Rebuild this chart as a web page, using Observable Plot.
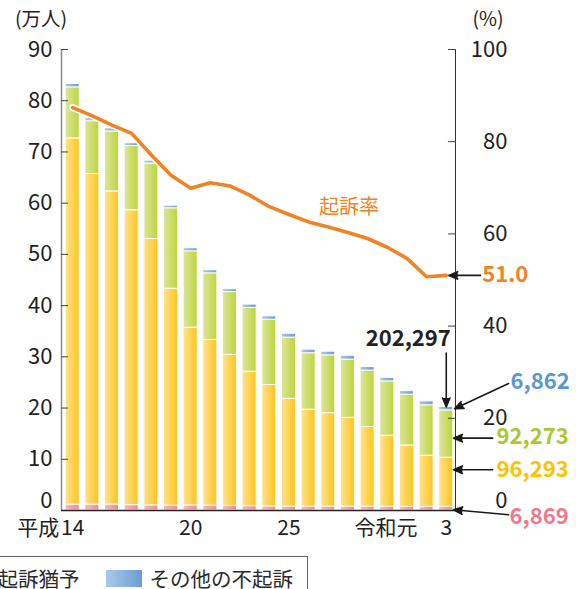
<!DOCTYPE html>
<html><head><meta charset="utf-8">
<script src="https://cdn.jsdelivr.net/npm/d3@7"></script>
<script src="https://cdn.jsdelivr.net/npm/@observablehq/plot@0.6"></script>
<style>
html,body{margin:0;padding:0;background:#fff;overflow:hidden;width:576px;height:589px;}
body{position:relative;font-family:"Noto Sans CJK JP","Noto Sans",sans-serif;}
#chart{position:absolute;left:0;top:0;}
#legend{position:absolute;top:556px;right:268px;border:1px solid #666;padding:9px 14px 14px 14px;display:flex;align-items:center;white-space:nowrap;font-size:20.5px;line-height:24px;color:#2a2a2a;background:#fff}
.item{display:flex;align-items:center;margin-left:26px}
.item:first-child{margin-left:0}
.sw{width:36px;height:17px;margin-right:8px}
</style></head><body>
<div id="chart"></div>
<div id="legend"></div>
<script>
// ---- data (万人 / %) ----
const years = [2002,2003,2004,2005,2006,2007,2008,2009,2010,2011,2012,2013,2014,2015,2016,2017,2018,2019,2020,2021];
const seriesNames = ["公判請求","略式命令請求","起訴猶予","その他の不起訴"];
const kohan   = [1.15,1.15,1.15,1.05,1.0,0.95,1.0,0.95,0.9,0.85,0.8,0.75,0.75,0.75,0.75,0.75,0.72,0.7,0.7,0.6869];
const ryaku   = [71.5,64.55,61.15,57.55,52.0,42.35,34.7,32.35,29.5,26.25,23.7,21.05,18.95,18.25,17.35,15.55,13.88,12.0,10.0,9.6293];
const yuyo    = [9.96,10.3,11.7,12.55,14.75,15.7,14.9,13.0,12.25,12.45,12.75,11.95,11.0,11.3,11.35,11.0,10.6,9.9,9.85,9.2273];
const sonota  = [0.65,0.6,0.6,0.55,0.55,0.5,0.6,0.6,0.55,0.65,0.65,0.75,0.7,0.7,0.75,0.7,0.7,0.7,0.75,0.6862];
const kisoRate = [87.4,85.6,83.6,81.8,77.1,72.7,69.9,71.1,70.4,68.4,65.9,64.2,62.6,61.5,60.3,59.0,57.1,54.7,50.7,51.0];
const leftTicks = [0,10,20,30,40,50,60,70,80,90];
const rightTicks = [0,20,40,60,80,100];
const xTickYears = [2002,2008,2013,2019,2021];
const xTickNums = ["14","20","25","元","3"];
const xTickEras = ["平成","","","令和",""];
const lastPersons = {total:202297, kohan:6869, ryaku:96293, yuyo:92273, sonota:6862};

// ---- build tables ----
const seriesValues = [kohan, ryaku, yuyo, sonota];
const rows = [];
years.forEach((yr,i)=>seriesNames.forEach((s,j)=>rows.push({year:yr, series:s, value:seriesValues[j][i]})));
const rateRows = years.map((yr,i)=>({year:yr, rate:kisoRate[i]}));
const xTicks = xTickYears.map((yr,i)=>({year:yr, num:xTickNums[i], era:xTickEras[i]}));
const P = 0.9; // 100% <-> 90万人
const last = years.length-1;
const lastYear = years[last];
const total = kohan[last]+ryaku[last]+yuyo[last]+sonota[last];
const fmt = d3.format(",");

const gradIds = ["gPink","gYellow","gGreen","gBlue"];
const gradStops = [["#f9b9c1","#ee8a99"],["#ffe38e","#ffc51c"],["#dde69e","#bcd53a"],["#acc8ea","#6c9dd6"]];
const labelColors = {sonota:"#5b97d2", yuyo:"#a8c934", ryaku:"#fdc200", kohan:"#ee7a8c", rate:"#ef8325"};

const x0 = 2001.43, x1 = 2021.47, half = 0.356;
const font = "'Noto Sans CJK JP','Noto Sans',sans-serif";

const ann = [
  {x1:lastYear, y1:total+10.5, x2:lastYear, y2:total},
  {x1:lastYear+1.74, y1:kisoRate[last]*P, x2:lastYear+0.13, y2:kisoRate[last]*P},
  {x1:lastYear+3.17, y1:24.8, x2:lastYear+0.42, y2:19.86},
  {x1:lastYear+2.36, y1:14.12, x2:lastYear+0.37, y2:14.12},
  {x1:lastYear+2.36, y1:7.95, x2:lastYear+0.37, y2:7.95},
  {x1:lastYear+3.17, y1:-0.84, x2:lastYear+0.37, y2:0.14}
];
const annText = [
  {x:lastYear+0.23, y:total+13.2, t:fmt(lastPersons.total), c:"#222", a:"end"},
  {x:lastYear+1.83, y:kisoRate[last]*P, t:kisoRate[last].toFixed(1), c:labelColors.rate, a:"start"},
  {x:lastYear+3.27, y:25.05, t:fmt(lastPersons.sonota), c:labelColors.sonota, a:"start"},
  {x:lastYear+2.56, y:14.31, t:fmt(lastPersons.yuyo), c:labelColors.yuyo, a:"start"},
  {x:lastYear+2.56, y:8.0, t:fmt(lastPersons.ryaku), c:labelColors.ryaku, a:"start"},
  {x:lastYear+3.22, y:-1.31, t:fmt(lastPersons.kohan), c:labelColors.kohan, a:"start"}
];

const chart = Plot.plot({
  width: 576, height: 550,
  marginTop: 49, marginBottom: 40, marginLeft: 61, marginRight: 121,
  x: {domain: [x0, x1], axis: null},
  y: {domain: [0, 90], axis: null},
  color: {domain: seriesNames, range: gradIds.map(id=>`url(#${id})`)},
  style: {fontFamily: font, background: "white", color: "#222", overflow: "visible"},
  marks: [
    Plot.rectY(rows, Plot.stackY({x: "year", x1: d=>d.year-half, x2: d=>d.year+half, y: "value", fill: "series", stroke: "#fffdf5", strokeWidth: 1})),
    Plot.line(rateRows, {x: "year", y: d=>d.rate*P, stroke: "white", strokeWidth: 7, strokeLinejoin: "round", strokeLinecap: "round"}),
    Plot.line(rateRows, {x: "year", y: d=>d.rate*P, stroke: labelColors.rate, strokeWidth: 3.6, strokeLinejoin: "round", strokeLinecap: "round"}),
    // axes lines
    Plot.ruleX([x0], {x: d=>d, y1: ()=>0, y2: ()=>90, stroke: "#8c8c8c", strokeWidth: 1.5}),
    Plot.ruleX([x1], {x: d=>d, y1: ()=>0, y2: ()=>90, stroke: "#333", strokeWidth: 1}),
    Plot.ruleY(leftTicks.filter(d=>d>0), {y: d=>d, x1: ()=>x0, x2: ()=>x0+0.36, stroke: "#444", strokeWidth: 1}),
    Plot.ruleY(rightTicks.filter(d=>d>0), {y: d=>d*P, x1: ()=>x1-0.36, x2: ()=>x1, stroke: "#444", strokeWidth: 1}),
    Plot.ruleY([0], {y: d=>d, x1: ()=>x0, x2: ()=>x1, stroke: "#222", strokeWidth: 1.5}),
    // tick labels
    Plot.text(leftTicks.filter(d=>d>0), {y: d=>d, text: d=>String(d), frameAnchor: "left", dx: -9, textAnchor: "end", fontSize: 22, fill: "#222"}),
    Plot.text([0], {y: d=>d, text: d=>String(d), frameAnchor: "left", dx: -9, dy: -10, textAnchor: "end", fontSize: 22, fill: "#222"}),
    Plot.text(rightTicks.filter(d=>d>0), {y: d=>d*P, text: d=>String(d), frameAnchor: "right", dx: 52, textAnchor: "end", fontSize: 22, fill: "#222"}),
    Plot.text([0], {y: d=>d*P, text: d=>String(d), frameAnchor: "right", dx: 52, dy: -10, textAnchor: "end", fontSize: 22, fill: "#222"}),
    Plot.text(["(万人)"], {text: d=>d, frameAnchor: "top-left", textAnchor: "middle", lineAnchor: "middle", dx: -20.5, dy: -29.5, fontSize: 19.5, fill: "#222"}),
    Plot.text(["(%)"], {text: d=>d, frameAnchor: "top-right", textAnchor: "middle", lineAnchor: "middle", dx: 32.5, dy: -29.5, fontSize: 19.5, fill: "#222"}),
    Plot.text(xTicks, {x: "year", y: ()=>0, text: "num", dy: 17.5, fontSize: 21, fill: "#222"}),
    Plot.text(xTicks.filter(d=>d.era==="平成"), {x: "year", y: ()=>0, text: "era", dy: 17.5, dx: -13.5, textAnchor: "end", fontSize: 21, fill: "#222"}),
    Plot.text(xTicks.filter(d=>d.era==="令和"), {x: "year", y: ()=>0, text: "era", dy: 17.5, dx: -10.5, textAnchor: "end", fontSize: 21, fill: "#222"}),
    // series label
    Plot.text(["起訴率"], {x: ()=>2016.05, y: ()=>59.2, text: d=>d, fontSize: 20, fill: labelColors.rate}),
    // annotations
    Plot.arrow(ann, {x1: "x1", y1: "y1", x2: "x2", y2: "y2", stroke: "#1a1a1a", fill: "#1a1a1a", strokeWidth: 1.6, headLength: 9, headAngle: 45}),
    Plot.text(annText, {x: "x", y: "y", text: "t", fill: "c", textAnchor: "start", fontSize: 22, fontWeight: "bold", filter: d=>d.a==="start"}),
    Plot.text(annText, {x: "x", y: "y", text: "t", fill: "c", textAnchor: "end", fontSize: 22, fontWeight: "bold", filter: d=>d.a==="end"})
  ]
});

const svg = d3.select(chart);
const defs = svg.insert("defs", ":first-child");
gradIds.forEach((id,i)=>{
  const g = defs.append("linearGradient").attr("id", id).attr("x1","0").attr("x2","1").attr("y1","0").attr("y2","0");
  g.append("stop").attr("offset","0%").attr("stop-color", gradStops[i][0]);
  g.append("stop").attr("offset","100%").attr("stop-color", gradStops[i][1]);
});
document.getElementById("chart").appendChild(chart);

// legend
const lg = d3.select("#legend");
seriesNames.forEach((s,i)=>{
  const it = lg.append("div").attr("class","item");
  it.append("div").attr("class","sw").style("background", `linear-gradient(to right, ${gradStops[i][0]}, ${gradStops[i][1]})`);
  it.append("span").text(s);
});
</script>
</body></html>
